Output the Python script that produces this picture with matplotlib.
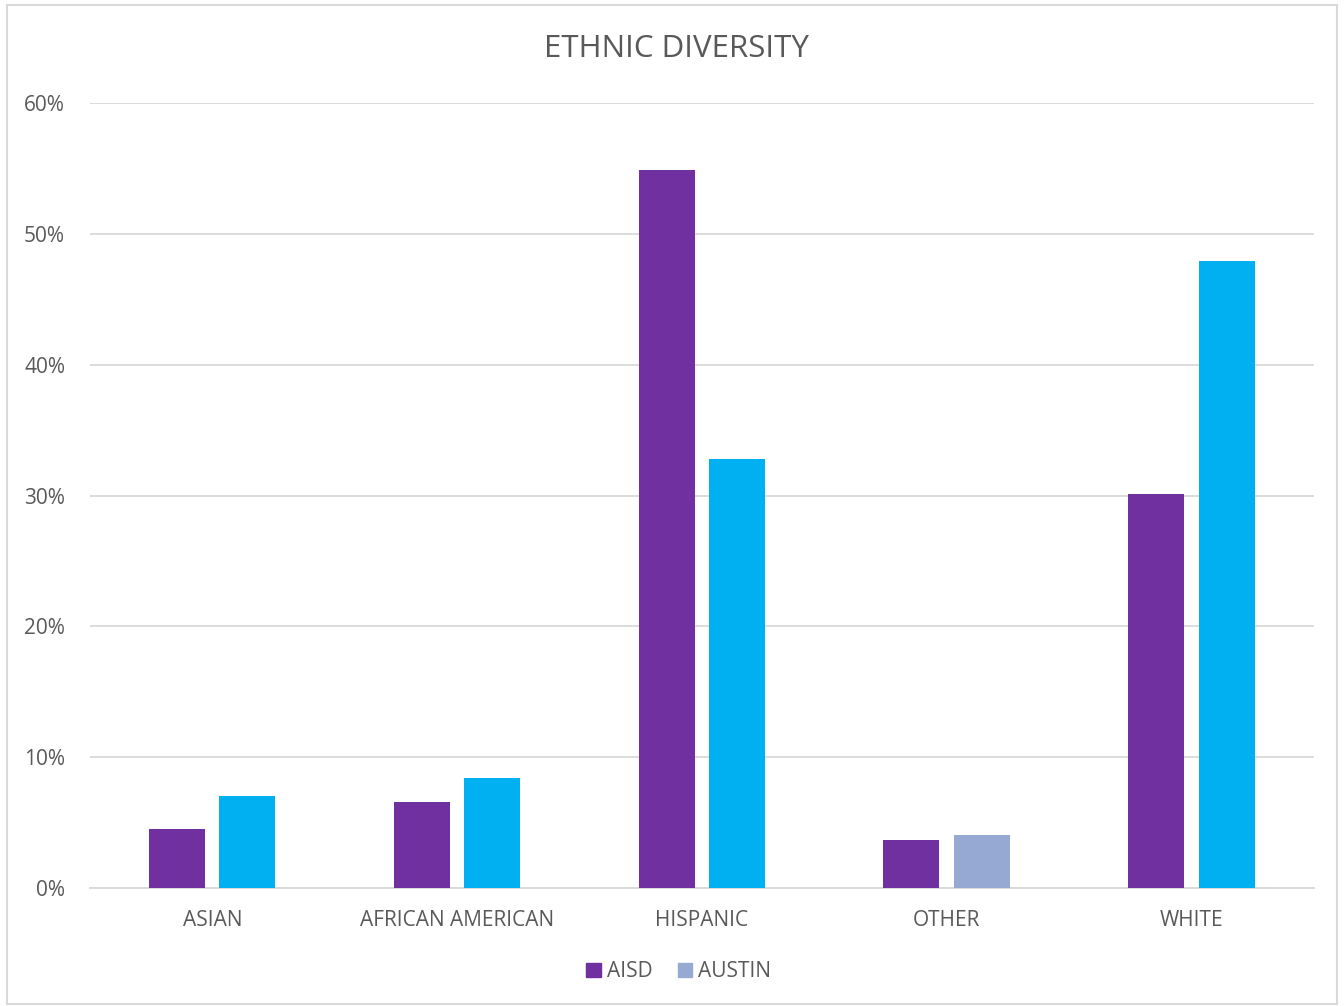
import numpy as np
import matplotlib
matplotlib.use("Agg")
import matplotlib.pyplot as plt
from matplotlib.patches import Rectangle

plt.rcParams['font.family'] = ['Open Sans', 'DejaVu Sans']

categories = ["ASIAN", "AFRICAN AMERICAN", "HISPANIC", "OTHER", "WHITE"]
aisd = [4.5, 6.6, 54.9, 3.7, 30.1]
austin = [7.0, 8.4, 32.8, 4.05, 47.9]
austin_colors = ["#00B0F0", "#00B0F0", "#00B0F0", "#95A9D3", "#00B0F0"]

txt = "#595959"
grid = "#D9D9D9"

fig = plt.figure(figsize=(13.44, 10.06), dpi=100)
ax = fig.add_axes([0.067, 0.1173, 0.9107, 0.7803])

x = np.arange(len(categories))
w = 0.229
ax.bar(x - 0.145, aisd, w, color="#7030A0", label="AISD", zorder=3)
ax.bar(x + 0.143, austin, w, color=austin_colors, label="AUSTIN", zorder=3)

ax.set_xlim(-0.5, len(categories) - 0.5)
ax.set_ylim(0, 60)
ax.set_yticks(range(0, 61, 10))
ax.set_yticklabels([f"{v}%" for v in range(0, 61, 10)])
ax.set_xticks(x)
ax.set_xticklabels(categories)
ax.tick_params(axis="both", length=0, labelsize=15, colors=txt)
ax.tick_params(axis="y", pad=18)
ax.tick_params(axis="x", pad=16)
ax.yaxis.grid(True, color=grid, linewidth=1.3, zorder=0)
for s in ["top", "right", "left"]:
    ax.spines[s].set_visible(False)
ax.spines["bottom"].set_color(grid)
ax.spines["bottom"].set_linewidth(1.3)

fig.text(0.503, 0.951, "ETHNIC DIVERSITY", ha="center", va="center",
         fontsize=22.5, color=txt)

handles = [Rectangle((0, 0), 1, 1, color="#7030A0"),
           Rectangle((0, 0), 1, 1, color="#95A9D3")]
fig.legend(handles, ["AISD", "AUSTIN"], loc="center", bbox_to_anchor=(0.505, 0.034),
           ncol=2, frameon=False, fontsize=15, labelcolor=txt,
           handlelength=0.7, handleheight=0.7, handletextpad=0.3, columnspacing=1.2)

fig.patches.append(Rectangle((0.005, 0.002), 0.99, 0.993, transform=fig.transFigure,
                             fill=False, edgecolor="#D9D9D9", linewidth=1.5))

fig.savefig("out.png", dpi=100)
